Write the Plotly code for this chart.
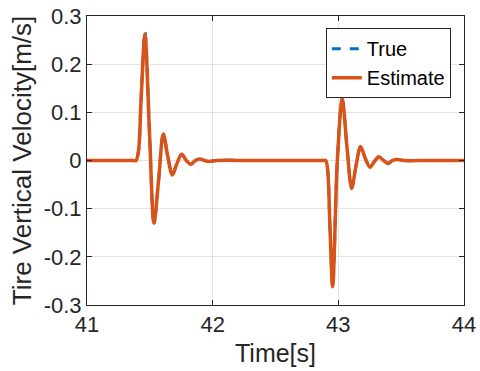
import plotly.graph_objects as go

# Time samples [s]
time_s = [41.0, 41.2, 41.37, 41.39, 41.41, 41.43, 41.461, 41.497, 41.533, 41.57, 41.607, 41.643,
          41.679, 41.716, 41.753, 41.79, 41.825, 41.862, 41.90, 41.935, 41.97, 42.03,
          42.3, 42.6, 42.88, 42.90, 42.915, 42.935, 42.955, 42.992, 43.031, 43.068, 43.106, 43.14, 43.177,
          43.215, 43.252, 43.287, 43.323, 43.36, 43.397, 43.43, 43.47, 43.52, 43.7, 43.85, 44.0]

# Tire vertical velocity [m/s]
true_vel = [0, 0, 0, 0, 0.02, 0.125, 0.268, 0.06, -0.130, -0.04, 0.055, 0.008,
            -0.030, -0.006, 0.013, 0.0, -0.008, 0.0, 0.003, 0.0, -0.002, 0,
            0, 0, 0, 0, -0.02, -0.15, -0.262, 0.0, 0.128, 0.03, -0.058, -0.012, 0.029,
            0.004, -0.014, -0.002, 0.008, 0.0, -0.006, 0.0, 0.002, 0, 0, 0, 0]
est_vel = [0, 0, 0, 0, 0.02, 0.125, 0.262, 0.06, -0.130, -0.04, 0.055, 0.008,
           -0.030, -0.006, 0.013, 0.0, -0.008, 0.0, 0.003, 0.0, -0.002, 0,
           0, 0, 0, 0, -0.02, -0.15, -0.262, 0.0, 0.128, 0.03, -0.058, -0.012, 0.029,
           0.004, -0.014, -0.002, 0.008, 0.0, -0.006, 0.0, 0.002, 0, 0, 0, 0]

x_ticks = [41, 42, 43, 44]
y_ticks = [-0.3, -0.2, -0.1, 0, 0.1, 0.2, 0.3]
y_tick_labels = ["-0.3", "-0.2", "-0.1", "0", "0.1", "0.2", "0.3"]

font_family = "Liberation Sans, Arial, sans-serif"

fig = go.Figure()
fig.add_trace(go.Scatter(x=time_s, y=true_vel, mode="lines", name="True",
                         line=dict(color="#0072BD", width=3, dash="dash", shape="spline", smoothing=0.9)))
fig.add_trace(go.Scatter(x=time_s, y=est_vel, mode="lines", name="Estimate",
                         line=dict(color="#D95319", width=3.5, shape="spline", smoothing=0.9)))

axis_common = dict(showline=True, linecolor="#262626", linewidth=1, mirror="ticks",
                   ticks="inside", ticklen=5, tickcolor="#262626",
                   showgrid=True, gridcolor="#E3E3E3", gridwidth=1, zeroline=False,
                   automargin=False,
                   tickfont=dict(family=font_family, size=22, color="#262626"))

fig.update_layout(
    width=480, height=371,
    margin=dict(l=87, r=16, t=16, b=66),
    paper_bgcolor="white", plot_bgcolor="white",
    font=dict(family=font_family, color="#262626"),
    xaxis=dict(range=[41, 44], tickvals=x_ticks, ticktext=[str(v) for v in x_ticks],
               title=dict(text="Time[s]", font=dict(size=25, family=font_family), standoff=8),
               **axis_common),
    yaxis=dict(range=[-0.3, 0.3], tickvals=y_ticks, ticktext=y_tick_labels,
               title=dict(text="Tire Vertical Velocity[m/s]", font=dict(size=26, family=font_family), standoff=4),
               **axis_common),
    legend=dict(x=0.965, y=0.958, xanchor="right", yanchor="top",
                bgcolor="white", bordercolor="#262626", borderwidth=1,
                font=dict(size=20, family=font_family, color="#000000"),
                tracegroupgap=0, itemwidth=30),
    showlegend=True,
)

# Remove the page's default 8px body margin so the 480x371 figure fills the window exactly.
fig.write_html("out.html", post_script="document.body.style.margin='0px';",
               config={"displayModeBar": False})
